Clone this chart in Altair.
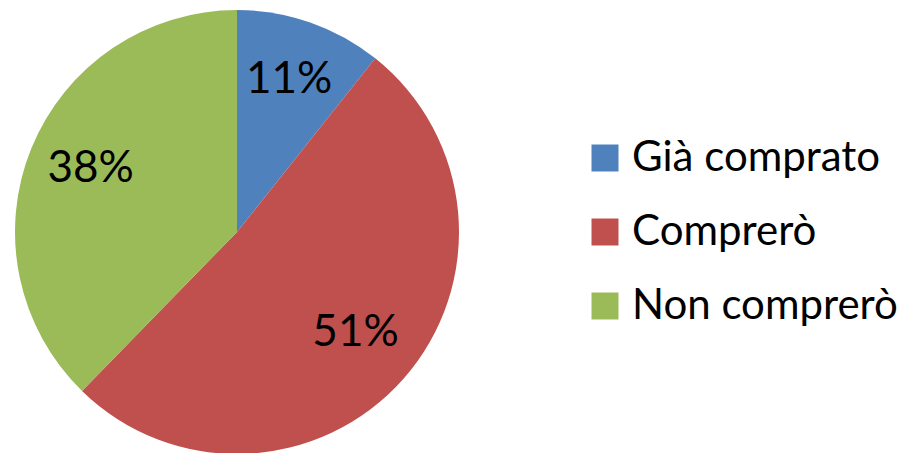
import altair as alt
import pandas as pd

categories = ["Già comprato", "Comprerò", "Non comprerò"]
values = [10.7, 51.6, 37.7]
labels = ["11%", "51%", "38%"]
colors = ["#4F81BD", "#C0504D", "#9BBB59"]

df = pd.DataFrame({"cat": categories, "val": values, "lab": labels, "order": [0, 1, 2]})

cx, cy = 229, 224
R = 222
FONT = "Lato"

base = alt.Chart(df).encode(
    theta=alt.Theta("val:Q", stack=True),
    order=alt.Order("order:Q"),
)

pie = base.mark_arc(outerRadius=R, x=cx, y=cy).encode(
    color=alt.Color(
        "cat:N",
        scale=alt.Scale(domain=categories, range=colors),
        sort=categories,
        legend=alt.Legend(
            title=None,
            orient="none",
            legendX=576,
            legendY=129,
            symbolType="square",
            symbolSize=729,
            symbolStrokeWidth=0,
            labelFont=FONT,
            labelFontSize=42,
            labelColor="#000000",
            labelLimit=400,
            rowPadding=32,
            labelOffset=6,
        ),
    )
)

text = base.mark_text(radius=158, x=cx, y=cy, dy=-3, font=FONT, fontSize=44, color="#000000").encode(
    text="lab:N"
)

chart = (pie + text).properties(
    width=903, height=445, padding=0, autosize=alt.AutoSizeParams(type="none")
).configure_view(stroke=None)

chart.save("out.html", embed_options={"renderer": "svg", "actions": False})
